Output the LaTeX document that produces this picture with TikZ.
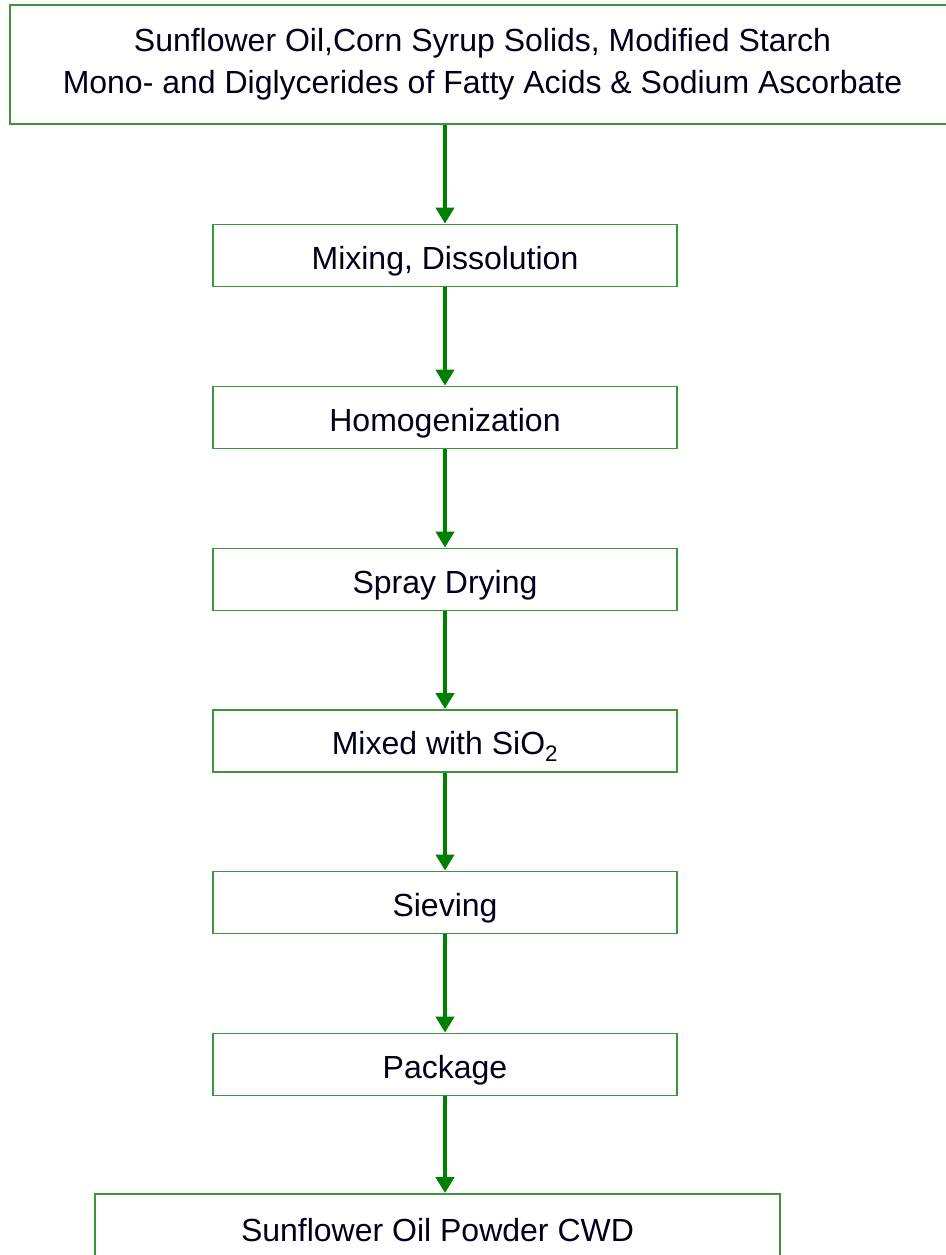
\documentclass[tikz,border=0pt]{standalone}
\usepackage{fontspec}
\setmainfont{Liberation Sans}
\usetikzlibrary{arrows.meta}
\definecolor{boxgreen}{RGB}{60,150,60}
\definecolor{arrowgreen}{RGB}{0,128,0}
\begin{document}
\begin{tikzpicture}[x=1pt,y=-1pt,
  stepbox/.style={draw=boxgreen, line width=1.8pt, rectangle, minimum width=464pt, minimum height=62pt, inner sep=0pt,
    font=\fontsize{32}{42}\selectfont, text=black!90!blue},
  onebox/.style={stepbox, text height=27pt, text depth=0pt},
  flow/.style={draw=arrowgreen, line width=4pt, -{Triangle[width=18pt,length=16pt]}}]
\useasboundingbox (0,0) rectangle (945,1255);
\fill[white] (0,0) rectangle (945,1255);
\node[stepbox, minimum width=945pt, minimum height=119pt, align=center] (top) at (482.5,64.5)
  {Sunflower Oil,Corn Syrup Solids, Modified Starch\\Mono- and Diglycerides of Fatty Acids \& Sodium Ascorbate};
\node[onebox] (s1) at (445,255.5) {Mixing, Dissolution};
\node[onebox] (s2) at (445,417.5) {Homogenization};
\node[onebox] (s3) at (445,579.5) {Spray Drying};
\node[onebox] (s4) at (445,741) {Mixed with SiO\textsubscript{2}};
\node[onebox] (s5) at (445,902.5) {Sieving};
\node[onebox] (s6) at (445,1064.5) {Package};
\node[onebox, minimum width=685pt, minimum height=68pt] (fin) at (437.5,1228) {Sunflower Oil Powder CWD};
\draw[flow] (top.south -| s1.north) -- (s1.north);
\draw[flow] (s1.south) -- (s2.north);
\draw[flow] (s2.south) -- (s3.north);
\draw[flow] (s3.south) -- (s4.north);
\draw[flow] (s4.south) -- (s5.north);
\draw[flow] (s5.south) -- (s6.north);
\draw[flow] (s6.south) -- (s6.south |- fin.north);
\end{tikzpicture}
\end{document}
